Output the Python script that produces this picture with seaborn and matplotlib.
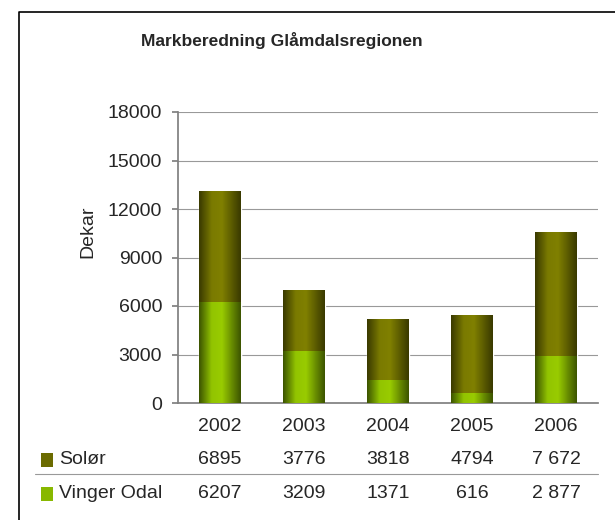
import numpy as np
import pandas as pd
import matplotlib.pyplot as plt
import seaborn as sns
from matplotlib.colors import LinearSegmentedColormap
from matplotlib.patches import Rectangle
from matplotlib.lines import Line2D

sns.set_theme(style="white")
plt.rcParams['font.family'] = ['Liberation Sans', 'DejaVu Sans']

years = ['2002', '2003', '2004', '2005', '2006']
solor = [6895, 3776, 3818, 4794, 7672]
vinger = [6207, 3209, 1371, 616, 2877]
solor_labels = ['6895', '3776', '3818', '4794', '7 672']
vinger_labels = ['6207', '3209', '1371', '616', '2 877']

df = pd.DataFrame({'year': years, 'Solør': solor, 'Vinger Odal': vinger})
df['total'] = df['Solør'] + df['Vinger Odal']

fig = plt.figure(figsize=(6.15, 5.2), dpi=100)
W, H = 615, 520
ax = fig.add_axes([178 / W, 1 - 403 / H, (598 - 178) / W, (403 - 112) / H])

sns.barplot(data=df, x='year', y='total', color='#808000', width=0.5,
            saturation=1, ax=ax, zorder=2)
sns.barplot(data=df, x='year', y='Vinger Odal', color='#99cc00', width=0.5,
            saturation=1, ax=ax, zorder=2)

# excel-like cylinder shading on each bar
cm_top = LinearSegmentedColormap.from_list(
    'top', [(0, '#3a3a00'), (0.3, '#7a7a00'), (0.55, '#808000'), (1, '#3a3a00')])
cm_bot = LinearSegmentedColormap.from_list(
    'bot', [(0, '#3d5500'), (0.3, '#92c400'), (0.55, '#99cc00'), (1, '#3d5500')])
grad = np.linspace(0, 1, 64).reshape(1, -1)
n = len(years)
for i, p in enumerate(ax.patches):
    x0, y0 = p.get_x(), p.get_y()
    w, h = p.get_width(), p.get_height()
    cmap = cm_top if i < n else cm_bot
    ax.imshow(grad, cmap=cmap, aspect='auto', extent=[x0, x0 + w, y0, y0 + h],
              zorder=3, interpolation='bilinear')

ax.set_xlim(-0.5, 4.5)
ax.set_ylim(0, 18000)
ax.set_yticks(range(0, 18001, 3000))
ax.yaxis.grid(True, color='#999999', linewidth=0.8, zorder=0)
ax.set_axisbelow(True)
for s in ['top', 'right']:
    ax.spines[s].set_visible(False)
ax.spines['left'].set_color('#808080')
ax.spines['bottom'].set_color('#808080')
ax.tick_params(axis='y', which='major', left=True, length=4, color='#808080',
               labelsize=14, pad=7.5)
ax.tick_params(axis='x', bottom=False, labelsize=14, pad=5)
ax.set_xlabel('')
ax.set_ylabel('')
fig.text(88 / W, 1 - 232 / H, 'Dekar', rotation=90, ha='center', va='center',
         fontsize=14)

fig.text(282 / W, 1 - 41 / H, 'Markberedning Glåmdalsregionen',
         ha='center', va='center', fontsize=12.5, fontweight='bold')

# data table
xc = [(178 + (i + 0.5) * 84) / W for i in range(n)]
for i in range(n):
    fig.text(xc[i], 1 - 459 / H, solor_labels[i], ha='center', va='center', fontsize=14)
    fig.text(xc[i], 1 - 493 / H, vinger_labels[i], ha='center', va='center', fontsize=14)
fig.add_artist(Rectangle((41 / W, 1 - 467 / H), 12 / W, 14 / H,
                         transform=fig.transFigure, facecolor='#6b6b00', edgecolor='none'))
fig.add_artist(Rectangle((41 / W, 1 - 501 / H), 12 / W, 14 / H,
                         transform=fig.transFigure, facecolor='#88b800', edgecolor='none'))
fig.text(59 / W, 1 - 459 / H, 'Solør', ha='left', va='center', fontsize=14)
fig.text(59 / W, 1 - 493 / H, 'Vinger Odal', ha='left', va='center', fontsize=14)
fig.add_artist(Line2D([35 / W, 598 / W], [1 - 474 / H, 1 - 474 / H],
                      transform=fig.transFigure, color='#999999', linewidth=0.8))

# chart frame: only left and top edges fall inside the picture
fig.add_artist(Line2D([19 / W, 19 / W, 1.0], [0.0, 1 - 12 / H, 1 - 12 / H],
                      transform=fig.transFigure, color='black', linewidth=1.2))

fig.savefig('out.png', dpi=100)
